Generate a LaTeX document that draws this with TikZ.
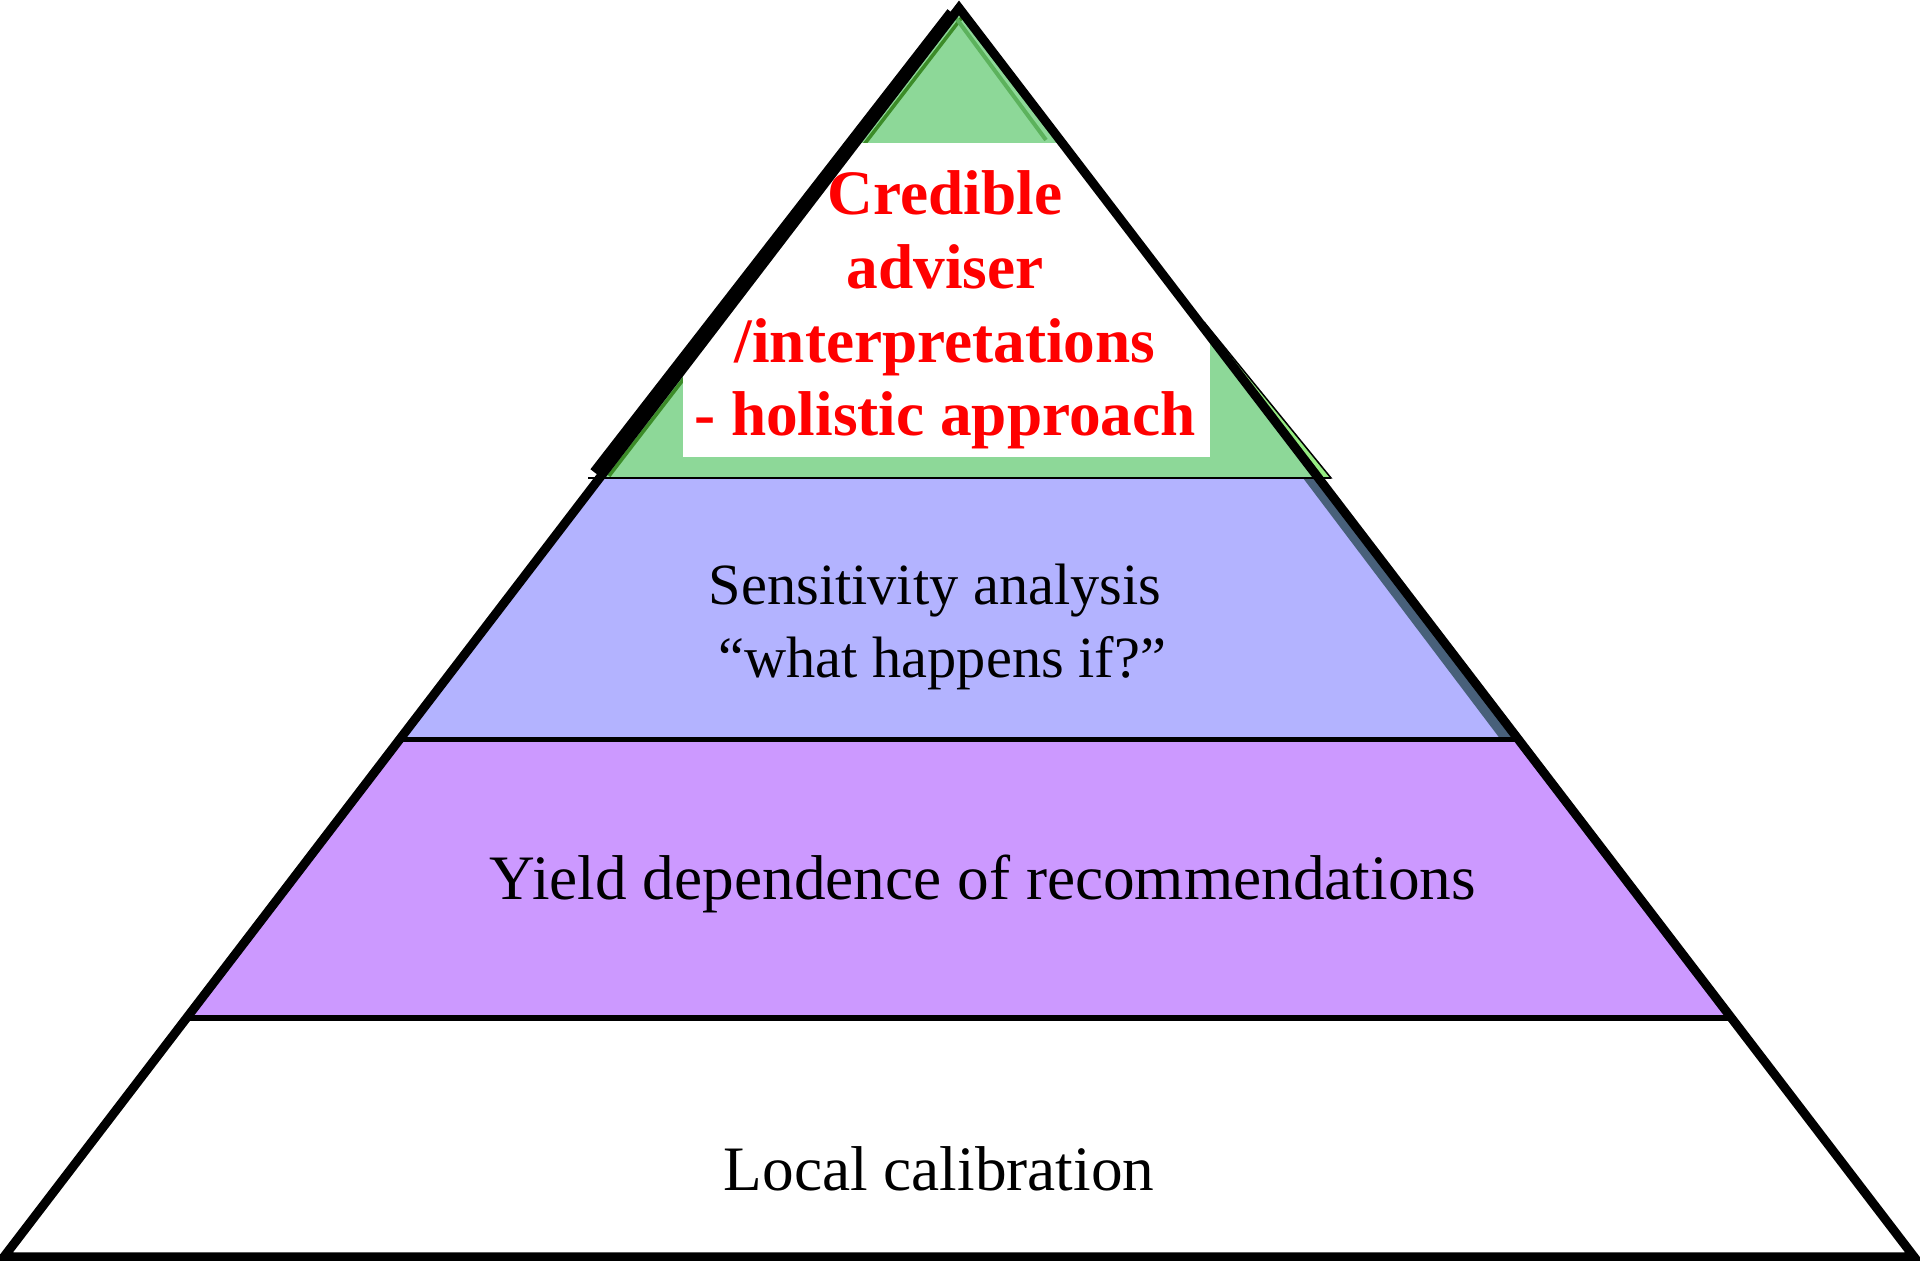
\documentclass[tikz,border=0pt]{standalone}
\usepackage{fontspec}
\setmainfont{Liberation Serif}
\usetikzlibrary{calc}
\definecolor{tierpurple}{RGB}{204,153,255}
\definecolor{tierblue}{RGB}{179,179,255}
\definecolor{tiergreen}{RGB}{141,216,152}
\definecolor{blueshade}{RGB}{72,96,122}
\definecolor{darkleaf}{RGB}{60,140,40}
\definecolor{midleaf}{RGB}{92,178,92}
\definecolor{lightleaf}{RGB}{150,235,130}
\tikzset{
	outline/.style={line width=0.9mm, line join=miter},
	divider/.style={line width=0.5mm},
	thindivider/.style={line width=0.15mm},
	tiertext/.style={align=center, inner sep=0pt, font={\fontsize{18}{21}\selectfont}},
	toptext/.style={align=center, inner sep=0pt, text=red, font={\fontsize{18}{21}\selectfont\bfseries}}
}

\begin{document}
\begin{tikzpicture}[x=0.01cm, y=-0.01cm]
			%%%%% START %%%%%
			\useasboundingbox (0, 0) rectangle (1920, 1261);
			
			% tiers
			\fill[tierpurple] (186.6, 1018) -- (1731.4, 1018) -- (1518.8, 740) -- (399.2, 740) -- cycle;
			\fill[tierblue] (399.2, 740) -- (1518.8, 740) -- (1318.5, 478) -- (599.5, 478) -- cycle;
			\fill[blueshade] (1303, 478) -- (1318.5, 478) -- (1518.8, 740) -- (1501, 740) -- cycle;
			\fill[tiergreen] (599.5, 478) -- (1318.5, 478) -- (959, 8) -- cycle;
			\draw[line width=0.35mm, color=darkleaf] (609, 476) -- (963, 16);
			\draw[line width=0.4mm, color=midleaf] (956, 18) -- (1046, 140);
			
			% white box behind the top text
			\begin{scope}
				\clip (3.8, 1257) -- (959, 8) -- (1914.2, 1257) -- cycle;
				\fill[white] (683, 143) rectangle (1210, 457);
			\end{scope}
			
			% green sliver on the right
			\draw[line width=0.15mm, fill=lightleaf] (1204, 322) -- (1331, 478) -- (1316, 478) -- cycle;
			\draw[line width=0.3mm, color=darkleaf] (1207, 332) -- (1319, 474);
			
			% dividers
			\draw[thindivider] (588, 478) -- (1331, 478);
			\draw[divider] (399.2, 740) -- (1518.8, 740);
			\draw[divider] (186.6, 1018) -- (1731.4, 1018);
			
			% pyramid
			\draw[outline] (3.8, 1257) -- (959, 8) -- (1914.2, 1257) -- cycle;
			\draw[outline] (594, 472) -- (951, 12);
			
			% labels
			\node[toptext] (cred) at (945, 310) {Credible\\adviser\\/interpretations\\- holistic approach};
			\node[tiertext, font={\fontsize{16.6}{21}\selectfont}] (sens) at (935, 627) {Sensitivity analysis\\\ “what happens if?”};
			\node[tiertext] (yield) at (983, 884) {Yield dependence of recommendations};
			\node[tiertext] (local) at (939, 1169) {Local calibration};
			
			%%%%% END %%%%%
\end{tikzpicture}
\end{document}
